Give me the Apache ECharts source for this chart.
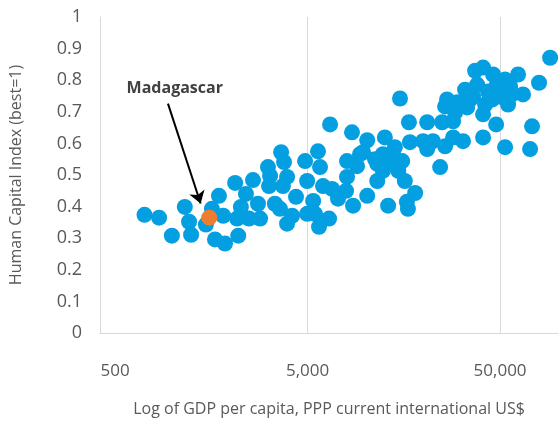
<!DOCTYPE html>
<html>
<head>
<meta charset="utf-8">
<script src="https://cdn.jsdelivr.net/npm/echarts@6/dist/echarts.min.js"></script>
<style>
  html, body { margin: 0; padding: 0; background: #fff; }
  #chart { width: 560px; height: 422px; }
</style>
</head>
<body>
<div id="chart"></div>
<script>
// GDP per capita (PPP, US$) and Human Capital Index
const gdp = [
  710, 845, 985, 1150, 1210, 1240, 1480, 1590, 1730, 1650, 1860, 1820, 2100, 2180, 2250, 2150,
  2390, 2600, 2480, 2760, 2830, 3110, 3190, 3150, 3380, 3640, 3770, 3910, 3720, 3590, 3910, 4150,
  4350, 4850, 4970, 5340, 5660, 5800, 6010, 5730, 4970, 5460, 6540, 8500, 10200, 12600, 14200, 17000,
  19900, 22400, 20900, 25900, 8010, 9360, 9030, 11200, 13100, 15500, 12300, 14800, 24400, 8010,
  11500, 16000, 6700, 7920, 7190, 10200, 18100, 8610, 13100, 16400, 16600, 6460, 12300, 13900,
  11500, 9700, 91000, 37100, 40800, 46000, 62000, 53100, 79700, 38000, 32900, 48200, 56400, 65800,
  50000, 43300, 36200, 26500, 25900, 29900, 33700, 29200, 55000, 40800, 20900, 25000, 28500, 47700,
  73300, 40800, 28500, 32100, 53100, 71600, 15100, 16800, 41800, 57700, 34900, 45400
];
const hci = [
  0.374, 0.365, 0.308, 0.399, 0.352, 0.311, 0.343, 0.393, 0.434, 0.296, 0.283, 0.371, 0.475, 0.308, 0.399, 0.362,
  0.440, 0.484, 0.362, 0.409, 0.362, 0.525, 0.497, 0.465, 0.409, 0.572, 0.541, 0.494, 0.465, 0.393, 0.346, 0.371,
  0.431, 0.544, 0.481, 0.418, 0.575, 0.525, 0.465, 0.336, 0.377, 0.377, 0.660, 0.635, 0.610, 0.619, 0.588, 0.604,
  0.607, 0.607, 0.582, 0.591, 0.544, 0.566, 0.528, 0.550, 0.541, 0.544, 0.513, 0.513, 0.525, 0.494,
  0.481, 0.481, 0.456, 0.450, 0.425, 0.434, 0.443, 0.403, 0.403, 0.415, 0.393, 0.362, 0.566, 0.566,
  0.535, 0.572, 0.871, 0.830, 0.840, 0.818, 0.818, 0.802, 0.792, 0.786, 0.770, 0.786, 0.780, 0.755,
  0.748, 0.764, 0.748, 0.739, 0.717, 0.730, 0.714, 0.698, 0.723, 0.692, 0.667, 0.667, 0.670, 0.660,
  0.654, 0.619, 0.619, 0.607, 0.588, 0.582, 0.742, 0.667, 0.723, 0.755, 0.739, 0.739
];

const madagascar = { name: 'Madagascar', gdp: 1540, hci: 0.365 };
// arrow from label to the Madagascar point
const arrowFrom = [940, 0.726];
const arrowTo = [1390, 0.41];
const labelAt = [1020, 0.775];

const xLabels = [500, 5000, 50000];
const xGrid = [5000, 50000];

const lg = Math.log10;
const fontFamily = '"Open Sans", sans-serif';

const chart = echarts.init(document.getElementById('chart'));
chart.setOption({
  animation: false,
  textStyle: { fontFamily: fontFamily },
  grid: { left: 100, right: 2, top: 17, bottom: 86 },
  xAxis: {
    type: 'value',
    min: 2.62,
    max: 5.0,
    name: 'Log of GDP per capita, PPP current international US$',
    nameLocation: 'middle',
    nameGap: 68,
    nameTextStyle: { color: '#595959', fontSize: 16, fontFamily: fontFamily },
    axisLine: { show: true, lineStyle: { color: '#d9d9d9', width: 1 } },
    axisTick: { show: false, customValues: xGrid.map(lg) },
    splitLine: { show: true, lineStyle: { color: '#d9d9d9', width: 1 } },
    axisLabel: {
      customValues: xLabels.map(lg),
      color: '#595959',
      fontSize: 17,
      margin: 30,
      formatter: v => Math.round(Math.pow(10, v)).toLocaleString('en-US')
    }
  },
  yAxis: {
    type: 'value',
    min: 0,
    max: 1,
    interval: 0.1,
    name: 'Human Capital Index (best=1)',
    nameLocation: 'middle',
    nameGap: 76,
    nameTextStyle: { color: '#595959', fontSize: 16, fontFamily: fontFamily },
    axisLine: { show: true, lineStyle: { color: '#d9d9d9', width: 1 } },
    axisTick: { show: false },
    splitLine: { show: false },
    axisLabel: { color: '#595959', fontSize: 18, margin: 18 }
  },
  series: [
    {
      type: 'scatter',
      symbolSize: 16,
      itemStyle: { color: '#039fe0', opacity: 1 },
      data: gdp.map((g, i) => [lg(g), hci[i]]),
      z: 2
    },
    {
      type: 'scatter',
      symbolSize: 16,
      itemStyle: { color: '#ed7d31', opacity: 1 },
      data: [[lg(madagascar.gdp), madagascar.hci]],
      z: 3,
      markLine: {
        silent: true,
        symbol: ['none', 'arrow'],
        symbolSize: 12,
        lineStyle: { color: '#000', width: 2, type: 'solid' },
        label: { show: false },
        data: [[
          { coord: [lg(arrowFrom[0]), arrowFrom[1]] },
          { coord: [lg(arrowTo[0]), arrowTo[1]] }
        ]]
      },
      markPoint: {
        silent: true,
        symbol: 'circle',
        symbolSize: 0,
        label: {
          show: true,
          position: 'inside',
          formatter: madagascar.name,
          color: '#404040',
          fontWeight: 'bold',
          fontSize: 16,
          fontFamily: fontFamily
        },
        data: [{ coord: [lg(labelAt[0]), labelAt[1]] }]
      }
    }
  ]
});
</script>
</body>
</html>
